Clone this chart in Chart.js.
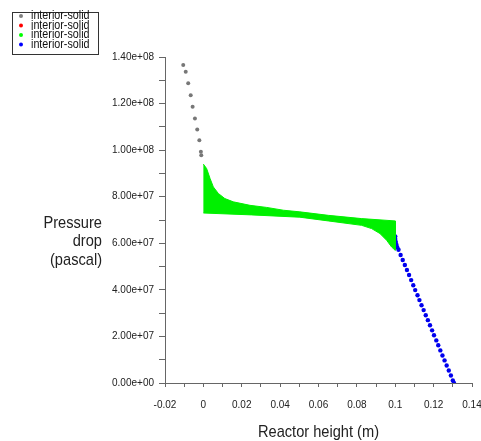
<!DOCTYPE html>
<html>
<head>
<meta charset="utf-8">
<script src="https://cdn.jsdelivr.net/npm/chart.js@4"></script>
<style>
  html, body { margin: 0; padding: 0; background: #fff; }
  #wrap { width: 481px; height: 441px; }
</style>
</head>
<body>
<div id="wrap"><canvas id="pressure"></canvas></div>
<script>
  const FONT = "'Liberation Sans', Arial, sans-serif";
  const SQUEEZE = 0.86; // the original titles are horizontally condensed

  // series (x in m, y in Pa)
  const greyX = [-0.0105, -0.0092, -0.0079, -0.0066, -0.0056, -0.0044, -0.0032, -0.0021, -0.0013, -0.0011];
  const greyY = [1.366e8, 1.337e8, 1.287e8, 1.236e8, 1.186e8, 1.136e8, 1.089e8, 1.043e8, 0.993e8, 0.978e8];

  const redX = [];
  const redY = [];

  // green region: upper edge and lower edge of the band
  const greenTopX = [0, 0.0017, 0.0035, 0.0052, 0.0078, 0.0112, 0.0156, 0.0243, 0.033, 0.0417, 0.0503, 0.0651, 0.0825, 0.1];
  const greenTopY = [0.940e8, 0.921e8, 0.878e8, 0.842e8, 0.814e8, 0.792e8, 0.778e8, 0.763e8, 0.754e8, 0.742e8, 0.735e8, 0.720e8, 0.706e8, 0.696e8];
  const greenBottomX = [0, 0.025, 0.0503, 0.0651, 0.0825, 0.0877, 0.092, 0.0955, 0.0981, 0.1];
  const greenBottomY = [0.730e8, 0.722e8, 0.712e8, 0.696e8, 0.677e8, 0.663e8, 0.642e8, 0.613e8, 0.584e8, 0.570e8];

  const blueX = [0.1, 0.1, 0.1003, 0.1006, 0.1010, 0.1017, 0.1028, 0.1039, 0.1050, 0.1061, 0.1072, 0.1083, 0.1094,
    0.1104, 0.1116, 0.1126, 0.1137, 0.1148, 0.1159, 0.1170, 0.1181, 0.1192, 0.1202, 0.1214, 0.1224, 0.1235,
    0.1246, 0.1257, 0.1268, 0.1279, 0.1290, 0.1300, 0.1306];
  const blueY = [0.629e8, 0.618e8, 0.606e8, 0.594e8, 0.583e8, 0.572e8, 0.550e8, 0.528e8, 0.507e8, 0.485e8, 0.464e8,
    0.442e8, 0.420e8, 0.399e8, 0.377e8, 0.356e8, 0.334e8, 0.313e8, 0.291e8, 0.270e8, 0.248e8, 0.226e8, 0.205e8,
    0.183e8, 0.162e8, 0.140e8, 0.118e8, 0.097e8, 0.075e8, 0.054e8, 0.032e8, 0.011e8, 0];

  const xLabelValues = [-0.02, 0, 0.02, 0.04, 0.06, 0.08, 0.1, 0.12, 0.14];
  const yLabelValues = [0, 2e7, 4e7, 6e7, 8e7, 1e8, 1.2e8, 1.4e8];

  const xTitleText = 'Reactor height (m)';
  const yTitleLines = ['Pressure', 'drop', '(pascal)'];

  const pts = (xs, ys) => xs.map((x, i) => ({ x: x, y: ys[i] }));

  // closed outline of the green band: along the top, back along the bottom
  const greenShape = pts(greenTopX, greenTopY).concat(pts(greenBottomX, greenBottomY).reverse());

  function squeezedText(c, text, x, y) {
    c.save();
    c.translate(x, y);
    c.scale(SQUEEZE, 1);
    c.fillText(text, 0, 0);
    c.restore();
  }

  // little boxed legend in the top left corner
  const boxLegend = {
    id: 'boxLegend',
    afterDraw(chart) {
      const c = chart.ctx;
      c.save();
      c.strokeStyle = '#333';
      c.lineWidth = 1;
      c.strokeRect(12.5, 12.5, 86, 42);
      c.font = '12.5px ' + FONT;
      c.textBaseline = 'middle';
      chart.data.datasets.forEach((ds, i) => {
        const y = 16 + i * 9.5;
        c.fillStyle = ds.legendColor;
        c.beginPath();
        c.arc(21, y, 2, 0, Math.PI * 2);
        c.fill();
        c.fillStyle = '#111';
        squeezedText(c, ds.label, 31, y);
      });
      c.restore();
    }
  };

  // axis titles: horizontal y title left of the ticks, x title under the axis
  const axisTitles = {
    id: 'axisTitles',
    afterDraw(chart) {
      const c = chart.ctx;
      const area = chart.chartArea;
      c.save();
      c.font = '17px ' + FONT;
      c.fillStyle = '#222';
      c.textBaseline = 'middle';
      c.textAlign = 'right';
      yTitleLines.forEach((t, i) => squeezedText(c, t, 102, 223 + i * 18.5));
      c.textAlign = 'center';
      squeezedText(c, xTitleText, (area.left + area.right) / 2, 432);
      c.restore();
    }
  };

  new Chart(document.getElementById('pressure'), {
    type: 'scatter',
    data: {
      datasets: [
        {
          label: 'interior-solid',
          data: pts(greyX, greyY),
          legendColor: '#808080',
          backgroundColor: '#777',
          pointRadius: 2,
          pointBorderWidth: 0
        },
        {
          label: 'interior-solid',
          data: pts(redX, redY),
          legendColor: '#ff0000',
          backgroundColor: '#ff0000',
          pointRadius: 2,
          pointBorderWidth: 0
        },
        {
          label: 'interior-solid',
          data: greenShape,
          legendColor: '#00ff00',
          showLine: true,
          fill: 'shape',
          borderColor: '#00f000',
          backgroundColor: '#00f000',
          borderWidth: 1,
          tension: 0,
          pointRadius: 0
        },
        {
          label: 'interior-solid',
          data: pts(blueX, blueY),
          legendColor: '#0000ff',
          backgroundColor: '#0000ee',
          pointRadius: 2.2,
          pointBorderWidth: 0
        }
      ]
    },
    options: {
      responsive: true,
      maintainAspectRatio: false,
      animation: false,
      layout: {
        padding: { left: 0, top: 57, right: 9, bottom: 0 }
      },
      plugins: {
        legend: { display: false },
        tooltip: { enabled: false }
      },
      scales: {
        x: {
          type: 'linear',
          min: -0.02,
          max: 0.14,
          afterFit: function(scale) {
            scale.height = 58;
            scale.paddingLeft = 0;
            scale.paddingRight = 0;
          },
          border: { color: '#666', width: 1 },
          grid: { drawOnChartArea: false, drawTicks: true, tickLength: 4, color: '#666' },
          ticks: {
            stepSize: 0.01,
            padding: 12,
            maxRotation: 0,
            autoSkip: false,
            color: '#222',
            font: { family: FONT, size: 10 },
            callback: function(value) {
              const v = Math.round(value * 100) / 100;
              return xLabelValues.some(l => Math.abs(l - v) < 1e-9) ? String(v) : '';
            }
          }
        },
        y: {
          type: 'linear',
          min: 0,
          max: 1.4e8,
          afterFit: function(scale) { scale.width = 165; },
          border: { color: '#666', width: 1 },
          grid: { drawOnChartArea: false, drawTicks: true, tickLength: 6, color: '#666' },
          ticks: {
            stepSize: 1e7,
            padding: 5,
            autoSkip: false,
            color: '#222',
            font: { family: FONT, size: 10 },
            callback: function(value) {
              if (!yLabelValues.some(l => Math.abs(l - value) < 1)) return '';
              return value.toExponential(2).replace(/e([+-])(\d)$/, 'e$10$2');
            }
          }
        }
      }
    },
    plugins: [boxLegend, axisTitles]
  });
</script>
</body>
</html>
